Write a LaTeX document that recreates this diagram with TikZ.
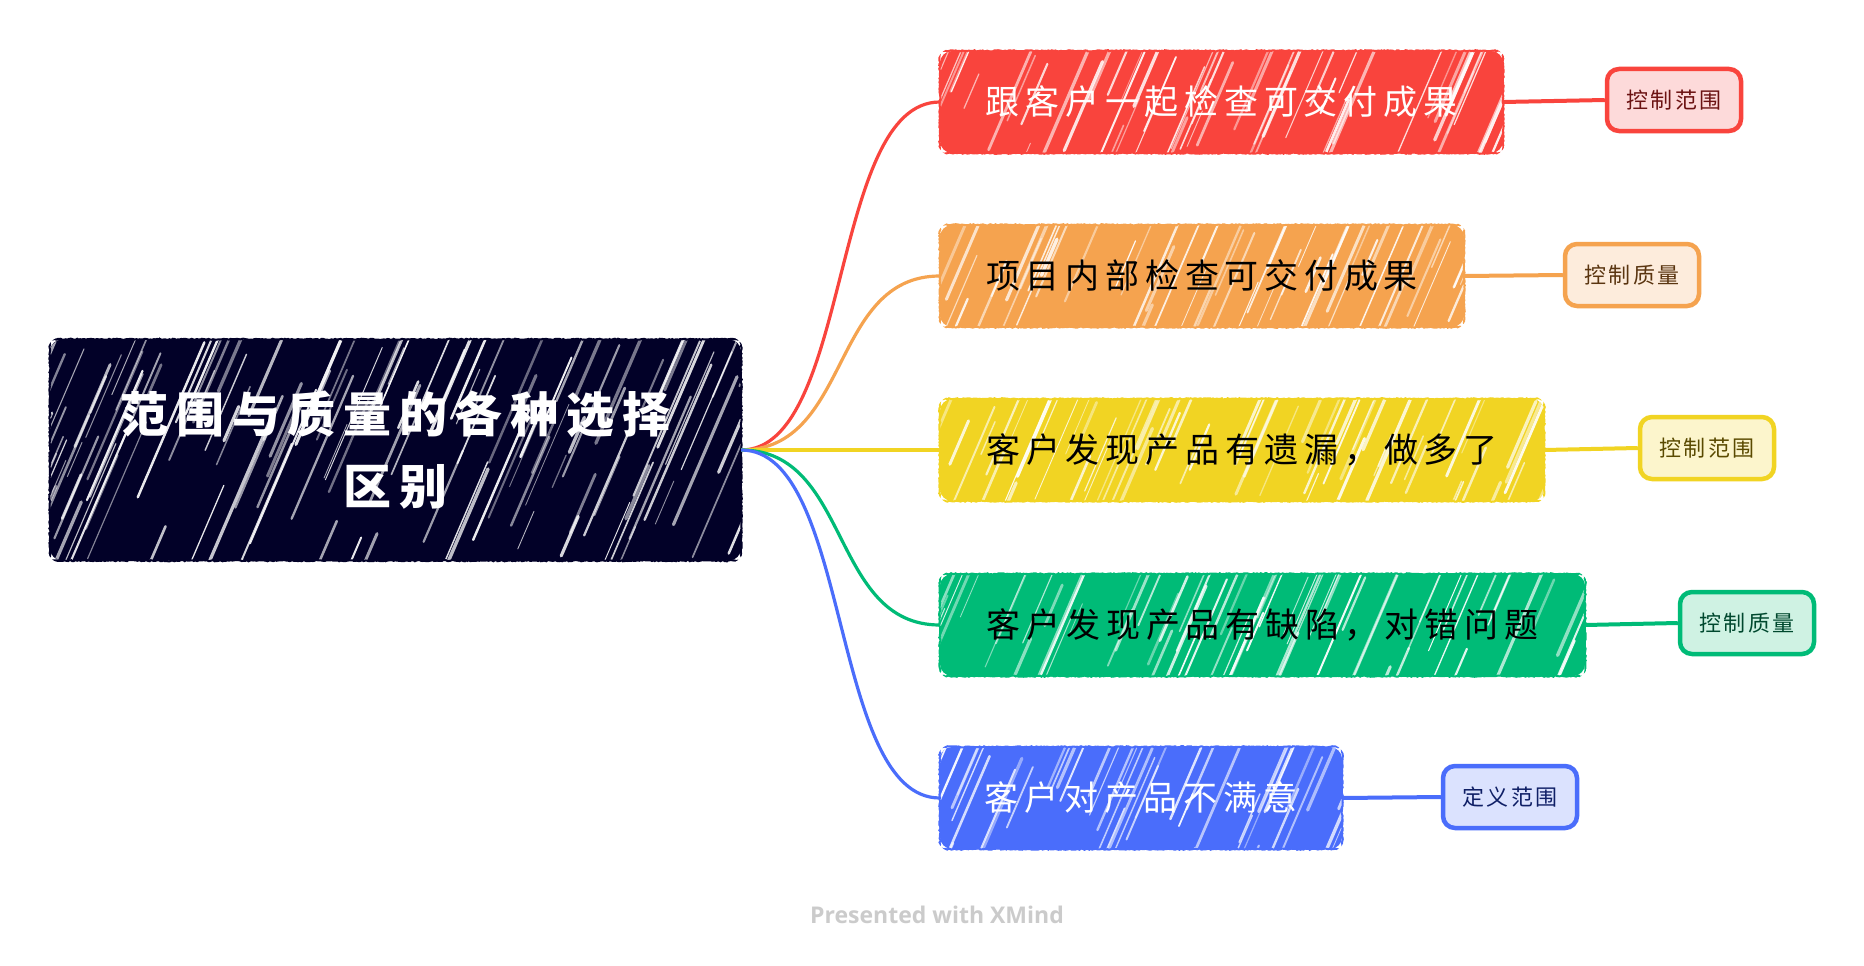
\documentclass[tikz,border=0pt]{standalone}
\usepackage{fontspec}
\newfontfamily\cjk{Noto Sans CJK SC}
\newfontfamily\xsans{Open Sans}
\usetikzlibrary{decorations.pathmorphing}
\definecolor{rootc}{HTML}{020128}
\definecolor{cred}{HTML}{F9443D}
\definecolor{cora}{HTML}{F5A34F}
\definecolor{cyel}{HTML}{F1D423}
\definecolor{cgre}{HTML}{00BB77}
\definecolor{cblu}{HTML}{4A6DFB}
\definecolor{fred}{HTML}{FDDADA}
\definecolor{fora}{HTML}{FDECDC}
\definecolor{fyel}{HTML}{FCF5CC}
\definecolor{fgre}{HTML}{CFF2E3}
\definecolor{fblu}{HTML}{DBE2FE}
\definecolor{tred}{HTML}{6B1212}
\definecolor{tora}{HTML}{5A3510}
\definecolor{tyel}{HTML}{5A4A00}
\definecolor{tgre}{HTML}{00482E}
\definecolor{tblu}{HTML}{0F1F66}
\definecolor{foottxt}{HTML}{CBCBCB}
\newcommand\hatch[5]{%
  \begin{scope}
  \clip[rounded corners=12] (#1,#2) rectangle (#3,#4);
  \foreach \k in {1,...,#5}{
    \pgfmathsetmacro\px{#1-0.43*(#4-#2)+rnd*((#3-#1)+0.43*(#4-#2))}
    \pgfmathsetmacro\py{#2+rnd*(#4-#2)+40}
    \pgfmathsetmacro\ln{30+rnd*130}
    \pgfmathsetmacro\lw{0.8+rnd*2.6}
    \pgfmathsetmacro\op{0.4+rnd*0.55}
    \draw[white, line width=\lw pt, opacity=\op, line cap=round] (\px,\py) -- ++(0.43*\ln,-\ln);
  }
  \end{scope}}
\newcommand\sketchbox[2]{%
  \begin{scope}
  \clip[rounded corners=15] ([shift={(-2.5,2.5)}]#1.south west) rectangle ([shift={(2.5,-2.5)}]#1.north east);
  \draw[sketch=#2] (#1.south west) rectangle (#1.north east);
  \end{scope}}
\tikzset{
  rootbox/.style={fill=rootc, rounded corners=12, minimum width=691pt, minimum height=221pt,
    inner sep=0pt, text=white, align=center,
    font=\cjk\bfseries\fontsize{48}{72}\selectfont\addfontfeature{LetterSpace=16}},
  branchbox/.style={fill=#1, rounded corners=12, minimum height=102pt, inner sep=0pt},
  btext/.style={font=\cjk\fontsize{34}{40}\selectfont\addfontfeature{LetterSpace=17}},
  labelbox/.style={draw=#1, line width=4.5pt, rounded corners=12, minimum width=134pt,
    minimum height=62pt, inner sep=0pt,
    font=\cjk\fontsize{22}{26}\selectfont\addfontfeature{LetterSpace=12}},
  sketch/.style={draw=#1, line width=2pt,
    decorate, decoration={random steps, segment length=1.6pt, amplitude=0.6pt}},
  conn/.style={draw=#1, line width=3.2pt},
  lconn/.style={draw=#1, line width=4pt}
}
\begin{document}
\begin{tikzpicture}[x=1pt,y=-1pt]
\pgfmathsetseed{7}
\fill[white] (0,0) rectangle (1864,966);
\useasboundingbox (0,0) rectangle (1864,966);

% root
\node[rootbox] (root) at (395.5,450) {};
\hatch{50}{340}{741}{560}{130}
\node[rootbox, fill=none] (roottext) at (root.center) {范围与质量的各种选择\\区别};
\sketchbox{root}{rootc}

% branches
\node[branchbox=cred, minimum width=563pt] (b1) at (1221.5,102) {};
\node[branchbox=cora, minimum width=524pt] (b2) at (1202,276) {};
\node[branchbox=cyel, minimum width=604pt] (b3) at (1242,450) {};
\node[branchbox=cgre, minimum width=645pt] (b4) at (1262.5,625) {};
\node[branchbox=cblu, minimum width=402pt] (b5) at (1141,798) {};

\hatch{940}{51}{1503}{153}{60}
\hatch{940}{225}{1464}{327}{55}
\hatch{940}{399}{1544}{501}{62}
\hatch{940}{574}{1585}{676}{66}
\hatch{940}{747}{1342}{849}{45}
\node[btext, text=white] (t1) at (b1.center) {跟客户一起检查可交付成果};
\node[btext, text=black] (t2) at (b2.center) {项目内部检查可交付成果};
\node[btext, text=black] (t3) at (b3.center) {客户发现产品有遗漏，做多了};
\node[btext, text=black] (t4) at (b4.center) {客户发现产品有缺陷，对错问题};
\node[btext, text=white] (t5) at (b5.center) {客户对产品不满意};
\sketchbox{b1}{cred}
\sketchbox{b2}{cora}
\sketchbox{b3}{cyel}
\sketchbox{b4}{cgre}
\sketchbox{b5}{cblu}

% labels
\node[labelbox=cred, fill=fred, text=tred] (l1) at (1674,100) {控制范围};
\node[labelbox=cora, fill=fora, text=tora] (l2) at (1632,275) {控制质量};
\node[labelbox=cyel, fill=fyel, text=tyel] (l3) at (1707,448) {控制范围};
\node[labelbox=cgre, fill=fgre, text=tgre] (l4) at (1747,623) {控制质量};
\node[labelbox=cblu, fill=fblu, text=tblu] (l5) at (1510,797) {定义范围};

% connectors
\draw[conn=cred] (root.east) .. controls +(110,0) and +(-110,0) .. (b1.west);
\draw[conn=cora] (root.east) .. controls +(110,0) and +(-110,0) .. (b2.west);
\draw[conn=cyel] (root.east) -- (b3.west);
\draw[conn=cgre] (root.east) .. controls +(110,0) and +(-110,0) .. (b4.west);
\draw[conn=cblu] (root.east) .. controls +(110,0) and +(-110,0) .. (b5.west);

\draw[lconn=cred] (b1.east) -- (l1.west);
\draw[lconn=cora] (b2.east) -- (l2.west);
\draw[lconn=cyel] (b3.east) -- (l3.west);
\draw[lconn=cgre] (b4.east) -- (l4.west);
\draw[lconn=cblu] (b5.east) -- (l5.west);

\node[anchor=base, text=foottxt, font=\xsans\bfseries\fontsize{23}{28}\selectfont] (foot) at (937,923) {Presented with XMind};
\end{tikzpicture}
\end{document}
